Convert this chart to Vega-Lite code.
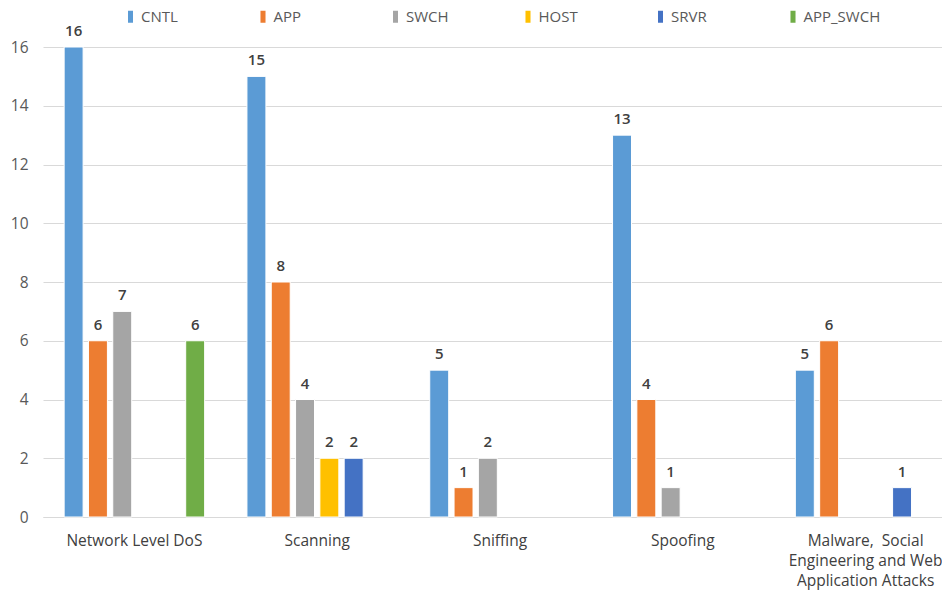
{
  "$schema": "https://vega.github.io/schema/vega-lite/v6.json",
  "autosize": "none",
  "width": 914,
  "height": 470,
  "padding": {"left": 43, "top": 47, "right": 0, "bottom": 77},
  "background": "white",
  "config": {
    "view": {"stroke": null},
    "font": "Open Sans",
    "axis": {"labelFont": "Open Sans", "labelColor": "#595959"},
    "legend": {"labelFont": "Open Sans"}
  },
  "data": {
    "values": [
      {"attack": "Network Level DoS", "type": "CNTL", "count": 16},
      {"attack": "Network Level DoS", "type": "APP", "count": 6},
      {"attack": "Network Level DoS", "type": "SWCH", "count": 7},
      {"attack": "Network Level DoS", "type": "APP_SWCH", "count": 6},
      {"attack": "Scanning", "type": "CNTL", "count": 15},
      {"attack": "Scanning", "type": "APP", "count": 8},
      {"attack": "Scanning", "type": "SWCH", "count": 4},
      {"attack": "Scanning", "type": "HOST", "count": 2},
      {"attack": "Scanning", "type": "SRVR", "count": 2},
      {"attack": "Sniffing", "type": "CNTL", "count": 5},
      {"attack": "Sniffing", "type": "APP", "count": 1},
      {"attack": "Sniffing", "type": "SWCH", "count": 2},
      {"attack": "Spoofing", "type": "CNTL", "count": 13},
      {"attack": "Spoofing", "type": "APP", "count": 4},
      {"attack": "Spoofing", "type": "SWCH", "count": 1},
      {"attack": "Malware, Social Engineering and Web Application Attacks", "type": "CNTL", "count": 5},
      {"attack": "Malware, Social Engineering and Web Application Attacks", "type": "APP", "count": 6},
      {"attack": "Malware, Social Engineering and Web Application Attacks", "type": "SRVR", "count": 1}
    ]
  },
  "encoding": {
    "x": {
      "field": "attack",
      "type": "nominal",
      "sort": null,
      "scale": {"paddingInner": 0, "paddingOuter": 0},
      "axis": {
        "title": null,
        "labelAngle": 0,
        "ticks": false,
        "domain": true,
        "domainColor": "#d9d9d9",
        "labelFontSize": 15.5,
        "labelColor": "#404040",
        "labelPadding": 16,
        "labelLineHeight": 20,
        "labelBaseline": "top",
        "labelLimit": 300,
        "labelExpr": "datum.value == 'Malware, Social Engineering and Web Application Attacks' ? ['Malware,\u00a0 Social', 'Engineering and Web', 'Application Attacks'] : datum.value"
      }
    },
    "xOffset": {
      "field": "type",
      "type": "nominal",
      "scale": {
        "domain": ["CNTL", "APP", "SWCH", "HOST", "SRVR", "APP_SWCH"],
        "paddingInner": 0.22,
        "paddingOuter": 0.87
      }
    },
    "y": {
      "field": "count",
      "type": "quantitative",
      "scale": {"domain": [0, 16], "nice": false},
      "axis": {
        "title": null,
        "values": [0, 2, 4, 6, 8, 10, 12, 14, 16],
        "ticks": false,
        "domain": false,
        "gridColor": "#d9d9d9",
        "labelFontSize": 15.5,
        "labelPadding": 15
      }
    }
  },
  "layer": [
    {
      "mark": {"type": "bar", "stroke": "white", "strokeWidth": 1},
      "encoding": {
        "color": {
          "field": "type",
          "type": "nominal",
          "scale": {
            "domain": ["CNTL", "APP", "SWCH", "HOST", "SRVR", "APP_SWCH"],
            "range": ["#5B9BD5", "#ED7D31", "#A5A5A5", "#FFC000", "#4472C4", "#70AD47"]
          },
          "legend": {
            "title": null,
            "orient": "none",
            "legendX": 80,
            "legendY": -38,
            "direction": "horizontal",
            "columns": 6,
            "gridAlign": "all",
            "columnPadding": 37.5,
            "symbolType": "M-0.42,-1H0.42V1H-0.42Z",
            "symbolSize": 144,
            "symbolStrokeWidth": 0,
            "symbolOffset": 0,
            "labelOffset": 3,
            "labelFontSize": 15,
            "labelColor": "#595959"
          }
        }
      }
    },
    {
      "mark": {"type": "text", "baseline": "bottom", "dy": -8, "fontSize": 15, "fontWeight": 600, "color": "#404040"},
      "encoding": {
        "text": {"field": "count", "type": "quantitative"}
      }
    }
  ]
}
